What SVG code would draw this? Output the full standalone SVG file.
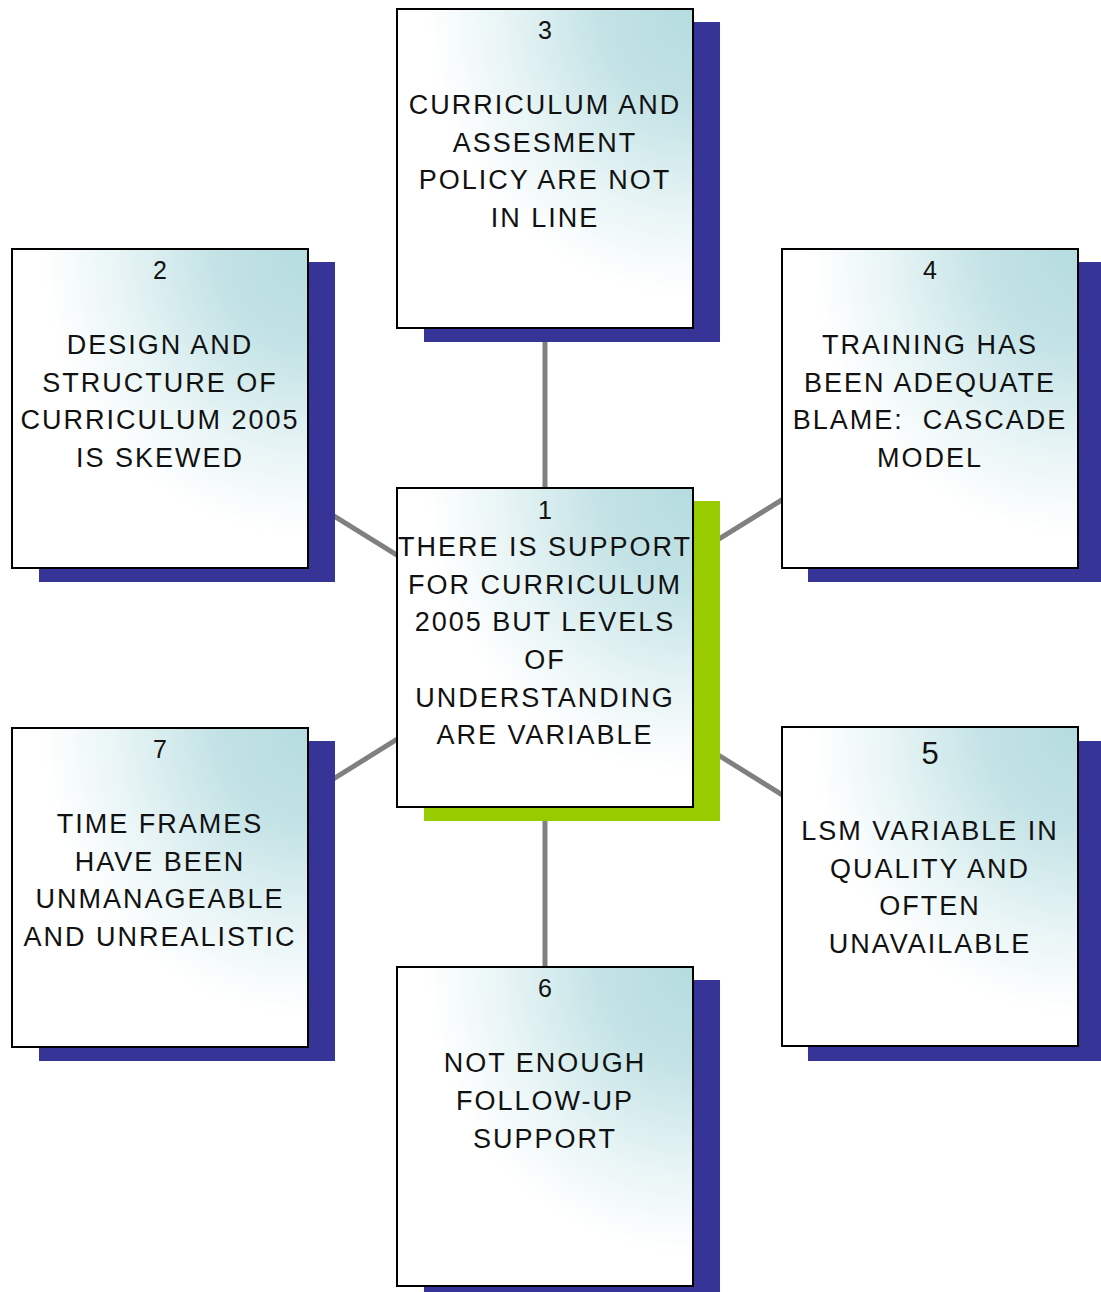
<svg xmlns="http://www.w3.org/2000/svg" width="1101" height="1292" viewBox="0 0 1101 1292">
<defs>
<radialGradient id="g" cx="1" cy="0" r="1" fx="1" fy="0">
<stop offset="0" stop-color="#b5dcdf"/>
<stop offset="0.3" stop-color="#c2e2e5"/>
<stop offset="0.65" stop-color="#e9f5f6"/>
<stop offset="0.9" stop-color="#ffffff"/>
</radialGradient>
</defs>
<style>
.box{fill:url(#g);stroke:#000;stroke-width:2}
.sh{fill:#363497}
.shg{fill:#99cc00}
.t{font-family:"Liberation Sans",Arial,sans-serif;font-size:27px;letter-spacing:2px;fill:#111;text-anchor:middle}
.n{font-family:"Liberation Sans",Arial,sans-serif;font-size:25px;fill:#111;text-anchor:middle}
.c{stroke:#808080;stroke-width:5;fill:none}
</style>
<rect width="1101" height="1292" fill="#fff"/>
<g id="connectors">
<line class="c" x1="545" y1="168" x2="545" y2="647"/>
<line class="c" x1="545" y1="647" x2="545" y2="1126"/>
<line class="c" x1="160" y1="408" x2="545" y2="647"/>
<line class="c" x1="930" y1="408" x2="545" y2="647"/>
<line class="c" x1="160" y1="887" x2="545" y2="647"/>
<line class="c" x1="930" y1="887" x2="545" y2="647"/>
</g>
<g id="node3">
<rect class="sh" x="424" y="22" width="296" height="320"/>
<rect class="box" x="397" y="9" width="296" height="319"/>
<text class="n" x="545" y="39">3</text>
<text class="t" x="545" y="114">CURRICULUM AND</text>
<text class="t" x="545" y="152">ASSESMENT</text>
<text class="t" x="545" y="189">POLICY ARE NOT</text>
<text class="t" x="545" y="227">IN LINE</text>
</g>
<g id="node2">
<rect class="sh" x="39" y="262" width="296" height="320"/>
<rect class="box" x="12" y="249" width="296" height="319"/>
<text class="n" x="160" y="279">2</text>
<text class="t" x="160" y="354">DESIGN AND</text>
<text class="t" x="160" y="392">STRUCTURE OF</text>
<text class="t" x="160" y="429">CURRICULUM 2005</text>
<text class="t" x="160" y="467">IS SKEWED</text>
</g>
<g id="node4">
<rect class="sh" x="808" y="262" width="296" height="320"/>
<rect class="box" x="782" y="249" width="296" height="319"/>
<text class="n" x="930" y="279">4</text>
<text class="t" x="930" y="354">TRAINING HAS</text>
<text class="t" x="930" y="392">BEEN ADEQUATE</text>
<text class="t" x="930" y="429" xml:space="preserve">BLAME:  CASCADE</text>
<text class="t" x="930" y="467">MODEL</text>
</g>
<g id="node1">
<rect class="shg" x="424" y="501" width="296" height="320"/>
<rect class="box" x="397" y="488" width="296" height="319"/>
<text class="n" x="545" y="519">1</text>
<text class="t" x="545" y="556">THERE IS SUPPORT</text>
<text class="t" x="545" y="594">FOR CURRICULUM</text>
<text class="t" x="545" y="631">2005 BUT LEVELS</text>
<text class="t" x="545" y="669">OF</text>
<text class="t" x="545" y="707">UNDERSTANDING</text>
<text class="t" x="545" y="744">ARE VARIABLE</text>
</g>
<g id="node7">
<rect class="sh" x="39" y="741" width="296" height="320"/>
<rect class="box" x="12" y="728" width="296" height="319"/>
<text class="n" x="160" y="758">7</text>
<text class="t" x="160" y="833">TIME FRAMES</text>
<text class="t" x="160" y="871">HAVE BEEN</text>
<text class="t" x="160" y="908">UNMANAGEABLE</text>
<text class="t" x="160" y="946">AND UNREALISTIC</text>
</g>
<g id="node5">
<rect class="sh" x="808" y="741" width="296" height="320"/>
<rect class="box" x="782" y="727" width="296" height="319"/>
<text class="n" x="930" y="764" style="font-size:31px">5</text>
<text class="t" x="930" y="840">LSM VARIABLE IN</text>
<text class="t" x="930" y="878">QUALITY AND</text>
<text class="t" x="930" y="915">OFTEN</text>
<text class="t" x="930" y="953">UNAVAILABLE</text>
</g>
<g id="node6">
<rect class="sh" x="424" y="980" width="296" height="312"/>
<rect class="box" x="397" y="967" width="296" height="319"/>
<text class="n" x="545" y="997">6</text>
<text class="t" x="545" y="1072">NOT ENOUGH</text>
<text class="t" x="545" y="1110">FOLLOW-UP</text>
<text class="t" x="545" y="1148">SUPPORT</text>
</g>
</svg>
